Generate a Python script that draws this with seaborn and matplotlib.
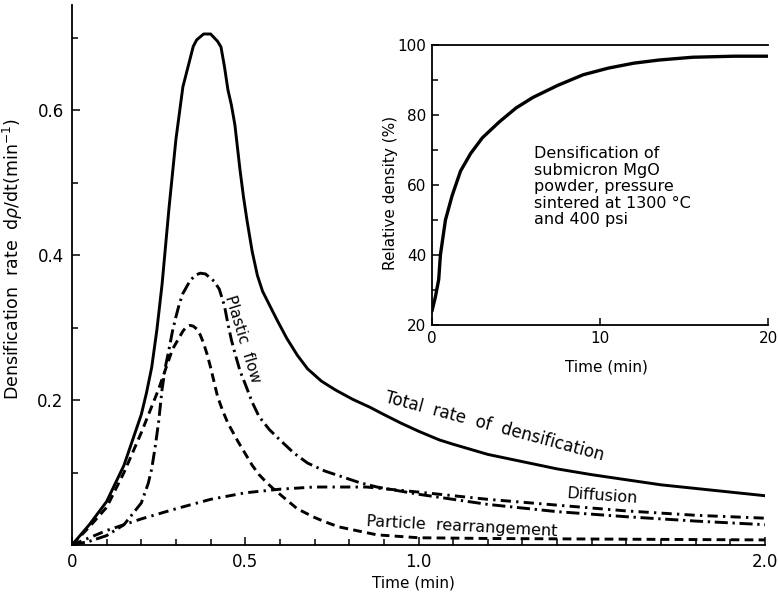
"""
Densification rate of submicron MgO during pressure sintering,
with the relative density curve as an inset.
"""

import matplotlib
matplotlib.use("Agg")
import matplotlib.pyplot as plt
import seaborn as sns
import pandas as pd
from matplotlib.ticker import MultipleLocator

# main plot: densification rate (1/min) vs time (min)
total_t = [0, 0.05, 0.10, 0.15, 0.175, 0.20, 0.215, 0.23, 0.245, 0.26, 0.28, 0.30, 0.32,
           0.35, 0.36, 0.38, 0.40, 0.42, 0.43, 0.44, 0.45, 0.46, 0.47, 0.485, 0.495, 0.505,
           0.52, 0.535, 0.55, 0.57, 0.59, 0.62, 0.65, 0.68, 0.72, 0.76, 0.81, 0.86, 0.90,
           0.95, 1.0, 1.06, 1.1, 1.2, 1.3, 1.4, 1.5, 1.6, 1.7, 1.8, 1.9, 2.0]
total_rate = [0, 0.028, 0.06, 0.11, 0.145, 0.18, 0.21, 0.245, 0.297, 0.36, 0.465, 0.56,
              0.632, 0.688, 0.697, 0.705, 0.705, 0.695, 0.687, 0.66, 0.628, 0.607, 0.58,
              0.517, 0.48, 0.448, 0.405, 0.372, 0.35, 0.331, 0.312, 0.285, 0.262, 0.243,
              0.226, 0.214, 0.201, 0.19, 0.18, 0.168, 0.157, 0.145, 0.139, 0.125, 0.115,
              0.105, 0.097, 0.09, 0.083, 0.078, 0.073, 0.068]

plastic_t = [0, 0.05, 0.10, 0.15, 0.20, 0.22, 0.23, 0.24, 0.25, 0.26, 0.27, 0.28, 0.29,
             0.30, 0.31, 0.32, 0.34, 0.355, 0.37, 0.385, 0.40, 0.41, 0.425, 0.44, 0.45,
             0.46, 0.47, 0.485, 0.50, 0.52, 0.54, 0.57, 0.60, 0.64, 0.68, 0.73, 0.78,
             0.83, 0.88, 0.94, 1.0, 1.2, 1.4, 1.6, 1.8, 2.0]
plastic_rate = [0, 0.005, 0.013, 0.028, 0.058, 0.085, 0.105, 0.135, 0.17, 0.215, 0.247,
                0.27, 0.295, 0.315, 0.333, 0.347, 0.364, 0.372, 0.375, 0.374, 0.368, 0.364,
                0.353, 0.33, 0.305, 0.283, 0.265, 0.24, 0.222, 0.197, 0.177, 0.159, 0.145,
                0.127, 0.113, 0.102, 0.094, 0.086, 0.08, 0.075, 0.07, 0.056, 0.046, 0.039,
                0.033, 0.028]

particle_t = [0, 0.05, 0.10, 0.15, 0.20, 0.25, 0.29, 0.32, 0.33, 0.34, 0.35, 0.36, 0.37,
              0.38, 0.39, 0.40, 0.41, 0.42, 0.435, 0.45, 0.465, 0.48, 0.50, 0.52, 0.54,
              0.56, 0.58, 0.60, 0.625, 0.65, 0.675, 0.70, 0.73, 0.77, 0.82, 0.88, 0.94,
              1.0, 1.2, 1.6, 2.0]
particle_rate = [0, 0.025, 0.052, 0.1, 0.155, 0.215, 0.27, 0.295, 0.301, 0.303, 0.302,
                 0.298, 0.29, 0.278, 0.263, 0.245, 0.225, 0.205, 0.185, 0.168, 0.155, 0.142,
                 0.126, 0.11, 0.097, 0.087, 0.078, 0.07, 0.06, 0.05, 0.044, 0.038, 0.032,
                 0.025, 0.02, 0.014, 0.012, 0.01, 0.009, 0.008, 0.007]

diffusion_t = [0, 0.05, 0.10, 0.20, 0.30, 0.40, 0.50, 0.60, 0.70, 0.85, 1.0, 1.2, 1.4, 1.6,
               1.8, 2.0]
diffusion_rate = [0, 0.01, 0.02, 0.036, 0.05, 0.063, 0.072, 0.077, 0.08, 0.08, 0.073, 0.063,
                  0.055, 0.047, 0.041, 0.037]

# inset: relative density (%) vs time (min)
inset_t = [0, 0.2, 0.4, 0.5, 0.8, 1.2, 1.7, 2.3, 3.0, 4.0, 5.0, 6.0, 7.5, 9.0, 10.5, 12.0,
           13.5, 15.5, 18.0, 20.0]
inset_density = [24, 28, 33, 40, 50, 57, 64, 69, 73.5, 78, 82, 85, 88.5, 91.5, 93.4, 94.8,
                 95.7, 96.5, 96.8, 96.8]

x_ticks = [0, 0.5, 1.0, 2.0]
x_tick_labels = ["0", "0.5", "1.0", "2.0"]
y_ticks = [0.2, 0.4, 0.6]
inset_x_ticks = [0, 10, 20]
inset_y_ticks = [20, 40, 60, 80, 100]

W, H = 778, 598


def main():
    sns.set_theme(style="white")
    plt.rcParams["font.family"] = ["DejaVu Sans"]
    plt.rcParams["mathtext.fontset"] = "dejavusans"
    plt.rcParams["text.color"] = "black"
    plt.rcParams["axes.labelcolor"] = "black"

    fig = plt.figure(figsize=(W / 100, H / 100), dpi=100)
    fig.patch.set_facecolor("white")

    # 1. main axes
    ax = fig.add_axes([72 / W, 1 - 545 / H, (765 - 72) / W, (545 - 5) / H])
    ax.set_facecolor("none")

    curves = pd.concat([
        pd.DataFrame({"t": total_t, "rate": total_rate, "curve": "total"}),
        pd.DataFrame({"t": plastic_t, "rate": plastic_rate, "curve": "plastic"}),
        pd.DataFrame({"t": particle_t, "rate": particle_rate, "curve": "particle"}),
        pd.DataFrame({"t": diffusion_t, "rate": diffusion_rate, "curve": "diffusion"}),
    ], ignore_index=True)

    dashes = {
        "total": "",
        "plastic": (4.5, 1.6, 0.8, 1.6),
        "particle": (3.0, 1.8),
        "diffusion": (3.5, 1.8, 0.8, 1.8),
    }
    sns.lineplot(data=curves, x="t", y="rate", style="curve", dashes=dashes,
                 color="black", linewidth=2.1, estimator=None, sort=False,
                 legend=False, ax=ax)

    ax.set_xlim(0, 2.0)
    ax.set_ylim(0, 0.745)
    ax.set_xticks(x_ticks)
    ax.set_xticklabels(x_tick_labels)
    ax.set_yticks(y_ticks)
    ax.xaxis.set_minor_locator(MultipleLocator(0.1))
    ax.yaxis.set_minor_locator(MultipleLocator(0.1))
    ax.tick_params(which="both", direction="in", color="black", width=1.1,
                   bottom=True, left=True, labelsize=12, labelcolor="black")
    ax.tick_params(which="major", length=6, pad=6)
    ax.tick_params(which="minor", length=4)
    sns.despine(ax=ax)
    for side in ("left", "bottom"):
        ax.spines[side].set_color("black")
        ax.spines[side].set_linewidth(1.3)

    ax.set_xlabel("Time (min)", fontsize=11)
    ax.xaxis.set_label_coords(0.492, -0.056)
    ax.set_ylabel(r"Densification  rate  d$\rho$/dt(min$^{-1}$)", fontsize=12.5)
    ax.yaxis.set_label_coords(-0.068, 0.53)

    # curve labels
    ax.text(0.492, 0.284, "Plastic  flow", rotation=-73, fontsize=11,
            ha="center", va="center")
    ax.text(1.22, 0.163, "Total  rate  of  densification", rotation=-15, fontsize=12,
            ha="center", va="center")
    ax.text(1.53, 0.068, "Diffusion", rotation=-4, fontsize=11.5,
            ha="center", va="center")
    ax.text(1.125, 0.025, "Particle  rearrangement", rotation=-3, fontsize=11.5,
            ha="center", va="center")

    # 2. inset: relative density
    ins = fig.add_axes([432 / W, 1 - 325 / H, (768 - 432) / W, (325 - 45) / H])
    ins.set_facecolor("none")
    sns.lineplot(x=inset_t, y=inset_density, color="black", linewidth=2.4,
                 estimator=None, sort=False, ax=ins)
    ins.set_xlim(0, 20)
    ins.set_ylim(20, 100)
    ins.set_xticks(inset_x_ticks)
    ins.set_yticks(inset_y_ticks)
    ins.yaxis.set_minor_locator(MultipleLocator(10))
    ins.tick_params(which="both", direction="in", color="black", width=1.1,
                    bottom=True, left=True, labelsize=11, labelcolor="black")
    ins.tick_params(which="major", length=5, pad=4)
    ins.tick_params(which="minor", length=4)
    for side in ("left", "bottom", "top"):
        ins.spines[side].set_color("black")
        ins.spines[side].set_linewidth(1.3)
    ins.spines["right"].set_visible(False)

    ins.set_xlabel("Time (min)", fontsize=11)
    ins.xaxis.set_label_coords(0.52, -0.125)
    ins.set_ylabel("Relative density (%)", fontsize=11)
    ins.yaxis.set_label_coords(-0.1, 0.47)
    ins.text(6.1, 71, "Densification of\nsubmicron MgO\npowder, pressure\n"
             "sintered at 1300 °C\nand 400 psi", fontsize=11.5,
             ha="left", va="top", linespacing=1.12)

    fig.savefig("out.png", dpi=100, facecolor="white")


if __name__ == "__main__":
    main()
